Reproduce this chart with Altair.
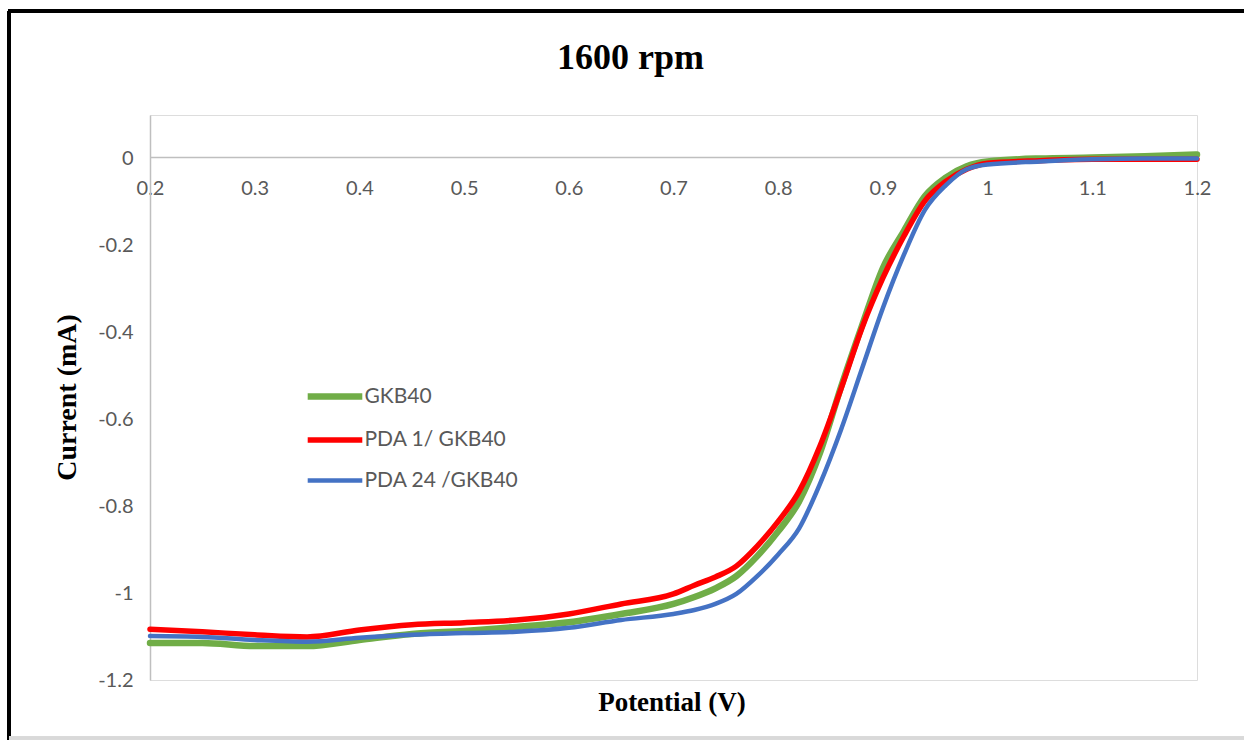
import altair as alt
import pandas as pd

# Potential (V)
potential = [0.20, 0.25, 0.30, 0.35, 0.40, 0.45, 0.50, 0.55, 0.60, 0.65,
             0.70, 0.72, 0.74, 0.76, 0.78, 0.80, 0.82, 0.84, 0.86, 0.88,
             0.90, 0.92, 0.94, 0.96, 0.98, 1.00, 1.05, 1.10, 1.15, 1.20]

# Current (mA)
gkb40 = [-1.115, -1.115, -1.122, -1.122, -1.108, -1.094, -1.087, -1.078, -1.067, -1.048,
         -1.025, -1.009, -0.989, -0.961, -0.915, -0.858, -0.789, -0.677, -0.526, -0.385,
         -0.252, -0.167, -0.087, -0.044, -0.018, -0.007, 0.000, 0.002, 0.005, 0.009]
pda1 = [-1.083, -1.089, -1.096, -1.101, -1.085, -1.073, -1.068, -1.062, -1.048, -1.025,
        -1.002, -0.982, -0.963, -0.938, -0.892, -0.835, -0.766, -0.661, -0.530, -0.390,
        -0.275, -0.179, -0.098, -0.053, -0.025, -0.011, -0.005, -0.002, -0.002, -0.002]
pda24 = [-1.099, -1.101, -1.108, -1.112, -1.103, -1.096, -1.092, -1.089, -1.080, -1.062,
         -1.048, -1.039, -1.025, -1.002, -0.961, -0.911, -0.851, -0.748, -0.624, -0.484,
         -0.344, -0.222, -0.119, -0.062, -0.025, -0.014, -0.007, -0.002, 0.000, 0.000]

series_names = ["GKB40", "PDA 1/ GKB40", "PDA 24 /GKB40"]
series_colors = ["#70AD47", "#FF0000", "#4472C4"]
series_widths = [6.5, 4.5, 4.5]

x_ticks = [0.2, 0.3, 0.4, 0.5, 0.6, 0.7, 0.8, 0.9, 1.0, 1.1, 1.2]
y_ticks = [-1.2, -1.0, -0.8, -0.6, -0.4, -0.2, 0.0]

rows = []
for name, ys in zip(series_names, [gkb40, pda1, pda24]):
    for x, y in zip(potential, ys):
        rows.append({"potential": x, "current": y, "series": name})
df = pd.DataFrame(rows)

W, H = 1047, 565
label_color = "#595959"
axis_color = "#BFBFBF"

legend = alt.Legend(
    title=None, orient="none", legendX=160.5, legendY=257,
    symbolType="M-1.3,0L1.3,0", symbolSize=1764, labelOffset=5,
    labelFont="Lato", labelFontSize=21, labelColor=label_color,
    rowPadding=6, padding=0,
)

lines = alt.Chart(df).mark_line(strokeCap="round", strokeJoin="round", interpolate="monotone").encode(
    x=alt.X("potential:Q",
            scale=alt.Scale(domain=[0.2, 1.2], nice=False, zero=False),
            axis=alt.Axis(values=x_ticks, labelExpr="toString(datum.value)",
                          orient="bottom", offset=-523, grid=False, ticks=False,
                          domainColor=axis_color, domainWidth=1.5,
                          labelFont="Lato", labelFontSize=20, labelColor=label_color,
                          labelPadding=21, labelFlush=False,
                          title="Potential (V)", titleFont="Liberation Serif",
                          titleFontWeight="bold", titleFontSize=27, titleColor="black",
                          titleX=W / 2 - 2, titleY=532)),
    y=alt.Y("current:Q",
            scale=alt.Scale(domain=[-1.2, 0.1], nice=False, zero=False),
            axis=alt.Axis(values=y_ticks, labelExpr="toString(datum.value)",
                          grid=False, ticks=False,
                          domainColor=axis_color, domainWidth=1.5,
                          labelFont="Lato", labelFontSize=20, labelColor=label_color,
                          labelPadding=17, labelFlush=False,
                          title="Current (mA)", titleFont="Liberation Serif",
                          titleFontWeight="bold", titleFontSize=28, titleColor="black",
                          titleX=-69, titleY=282)),
    color=alt.Color("series:N",
                    scale=alt.Scale(domain=series_names, range=series_colors),
                    legend=legend),
    strokeWidth=alt.StrokeWidth("series:N",
                                scale=alt.Scale(domain=series_names, range=series_widths),
                                legend=legend),
    order=alt.Order("potential:Q"),
)

frame_left = alt.Chart(df).mark_rule(color="black", strokeWidth=3).encode(
    x=alt.value(-141), y=alt.value(-104), y2=alt.value(H + 60))
frame_top = alt.Chart(df).mark_rule(color="black", strokeWidth=3).encode(
    x=alt.value(-142), x2=alt.value(W + 60), y=alt.value(-104))
frame_bottom = alt.Chart(df).mark_rule(color="#D9D9D9", strokeWidth=3).encode(
    x=alt.value(-141), x2=alt.value(W + 60), y=alt.value(H + 58))

chart = alt.layer(frame_left, frame_top, frame_bottom, lines).properties(
    width=W, height=H,
    title=alt.TitleParams("1600 rpm", font="Liberation Serif", fontWeight="bold",
                          fontSize=36, color="black", anchor="middle", offset=0,
                          dx=-43, dy=67),
    autosize=alt.AutoSizeParams(type="none"),
    padding={"left": 150, "top": 115, "right": 47, "bottom": 60},
).configure_view(stroke=None).configure(background="white")

chart.save("out.html", embed_options={"renderer": "svg", "actions": False})
